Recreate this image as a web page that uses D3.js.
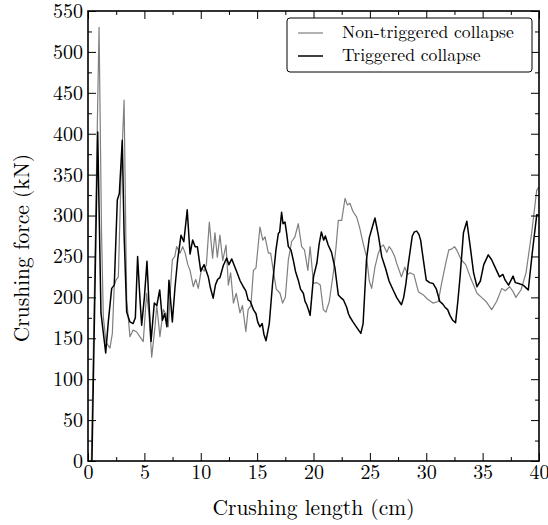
<!DOCTYPE html>
<html><head><meta charset="utf-8">
<script src="https://cdn.jsdelivr.net/npm/d3@7"></script>
<style>body{margin:0;background:#fff}svg{display:block}</style>
</head><body>
<script>
const seriesNames = ["Non-triggered collapse", "Triggered collapse"];
const xTicks = [0,5,10,15,20,25,30,35,40];
const yTicks = [0,50,100,150,200,250,300,350,400,450,500,550];

const nonTrigX = [0.3,0.98,1.2,1.36,1.6,1.95,2.16,2.33,2.48,2.69,2.93,3.2,3.43,3.72,4.0,4.3,4.6,4.9,5.2,5.4,5.65,5.94,6.1,6.38,6.68,6.9,7.12,7.36,7.48,7.7,7.86,8.16,8.4,8.6,8.85,9.05,9.34,9.55,9.78,10.08,10.3,10.5,10.76,11.05,11.26,11.47,11.7,11.95,12.24,12.45,12.65,12.9,13.15,13.48,13.7,14.0,14.2,14.45,14.67,14.9,15.25,15.5,15.7,16.0,16.2,16.43,16.7,17.03,17.26,17.5,17.77,18.06,18.35,18.65,18.95,19.2,19.5,19.7,20.0,20.3,20.6,20.87,21.1,21.4,21.76,22.0,22.2,22.5,22.8,23.0,23.23,23.5,23.83,24.1,24.4,24.7,24.95,25.16,25.45,25.75,26.0,26.2,26.5,26.7,26.93,27.2,27.37,27.8,28.1,28.35,28.56,28.9,29.3,29.74,30.1,30.6,31.07,31.36,31.75,32.0,32.26,32.5,32.7,33.1,33.5,33.9,34.2,34.5,34.9,35.3,35.8,36.24,36.7,37.0,37.4,37.7,37.95,38.4,38.85,39.35,39.8,40.0];
const nonTrigY = [0,530,279,176,145,138,156,215,221,225,347,441,197,152,160,158,152,146,205,180,127,164,190,152,185,180,164,221,246,250,262,254,262,255,240,233,213,222,211,236,232,240,292,248,279,249,276,245,264,215,230,193,205,181,190,158,185,190,233,236,286,270,274,254,254,233,210,205,193,200,246,268,274,290,262,258,233,262,217,218,215,185,182,195,230,262,294,294,321,313,315,305,298,285,266,250,220,211,237,254,262,264,255,262,258,250,242,225,237,228,230,228,207,203,198,193,195,217,243,258,259,262,258,246,240,225,215,205,200,195,185,195,211,208,213,207,200,209,230,279,331,335];

const trigX = [0.35,0.86,1.15,1.57,1.8,2.1,2.33,2.6,2.78,3.04,3.2,3.43,3.72,4.0,4.2,4.4,4.6,4.76,5.0,5.23,5.4,5.59,5.88,6.1,6.36,6.6,6.8,7.0,7.18,7.48,7.72,7.95,8.25,8.5,8.8,9.05,9.28,9.5,9.7,10.0,10.3,10.67,10.85,11.1,11.3,11.5,11.7,12.0,12.3,12.5,12.75,13.0,13.2,13.5,13.77,14.0,14.2,14.4,14.67,14.9,15.05,15.25,15.45,15.6,15.79,16.08,16.37,16.67,16.88,17.0,17.17,17.3,17.47,17.6,17.77,18.0,18.2,18.4,18.65,18.85,19.1,19.25,19.4,19.55,19.7,20.0,20.3,20.5,20.7,20.9,21.05,21.3,21.6,21.9,22.2,22.4,22.65,22.94,23.1,23.23,23.5,23.8,24.0,24.2,24.4,24.7,24.95,25.2,25.45,25.75,26.05,26.4,26.7,26.93,27.2,27.37,27.6,27.8,28.0,28.2,28.4,28.76,28.95,29.15,29.35,29.5,29.74,30.0,30.3,30.6,30.9,31.2,31.45,31.66,31.9,32.1,32.35,32.6,32.8,33.0,33.3,33.6,33.9,34.2,34.5,34.8,35.1,35.5,35.8,36.1,36.5,36.8,37.0,37.3,37.7,37.9,38.2,38.6,39.05,39.4,39.8,40.0];
const trigY = [0,402,181,132,170,211,215,319,327,392,278,182,170,168,175,250,200,166,200,244,195,146,193,190,209,172,180,164,221,170,213,246,276,268,307,253,270,262,262,232,240,225,212,199,215,222,224,239,248,240,247,238,231,220,213,208,197,195,185,180,170,164,168,155,147,168,217,258,278,280,304,290,292,280,262,258,246,232,221,210,205,195,191,185,178,225,242,265,280,270,275,264,255,236,203,200,197,188,180,176,170,164,160,156,168,246,273,285,297,276,250,235,220,213,205,200,195,191,200,217,240,275,280,281,277,270,246,221,218,217,210,195,192,188,185,178,172,169,195,225,279,293,262,230,213,220,240,252,246,237,225,228,221,215,226,218,217,215,209,254,301,300];

const FONT = '"Latin Modern Roman", "Liberation Serif", serif';
const W = 548, H = 525;
const m = {l: 88, t: 11, r: 9, b: 64};
const pw = W - m.l - m.r, ph = H - m.t - m.b;

const svg = d3.select("body").append("svg").attr("width", W).attr("height", H);
const x = d3.scaleLinear().domain([0, 40]).range([m.l, m.l + pw]);
const y = d3.scaleLinear().domain([0, 550]).range([m.t + ph, m.t]);

const xMinor = d3.range(2.5, 40, 5);
const yMinor = d3.range(25, 550, 50);

const g = svg.append("g");
const line = d3.line().x(d => x(d[0])).y(d => y(d[1]));
const nonTrig = nonTrigX.map((v, i) => [v, nonTrigY[i]]);
const trig = trigX.map((v, i) => [v, trigY[i]]);

svg.append("clipPath").attr("id", "clip").append("rect")
  .attr("x", m.l).attr("y", m.t).attr("width", pw).attr("height", ph);

g.append("path").datum(nonTrig).attr("d", line).attr("fill", "none")
  .attr("stroke", "#7f7f7f").attr("stroke-width", 1.2).attr("stroke-linejoin", "round").attr("clip-path", "url(#clip)");
g.append("path").datum(trig).attr("d", line).attr("fill", "none")
  .attr("stroke", "#000").attr("stroke-width", 1.5).attr("stroke-linejoin", "round").attr("clip-path", "url(#clip)");

const fs = 20, lfs = 21.5;
function addAxis(gen, tx, ty, vals, size, pad, labels) {
  const a = gen.tickValues(vals).tickSize(size).tickPadding(pad);
  if (labels) a.tickFormat(d3.format("d")); else a.tickFormat("");
  svg.append("g").attr("transform", `translate(${tx},${ty})`).call(a);
}
addAxis(d3.axisBottom(x), 0, m.t + ph, xTicks, -8, 4, true);
addAxis(d3.axisBottom(x), 0, m.t + ph, xMinor, -4, 3, false);
addAxis(d3.axisTop(x), 0, m.t, xTicks, -8, 3, false);
addAxis(d3.axisTop(x), 0, m.t, xMinor, -4, 3, false);
addAxis(d3.axisLeft(y), m.l, 0, yTicks, -8, 5, true);
addAxis(d3.axisLeft(y), m.l, 0, yMinor, -4, 3, false);
addAxis(d3.axisRight(y), m.l + pw, 0, yTicks, -8, 3, false);
addAxis(d3.axisRight(y), m.l + pw, 0, yMinor, -4, 3, false);

svg.selectAll("g").attr("font-family", FONT);
svg.selectAll(".domain").remove();
svg.selectAll(".tick line").attr("stroke", "#000").attr("stroke-width", 1);
svg.selectAll(".tick text").attr("font-family", FONT).attr("font-size", fs).attr("fill", "#000");

svg.append("rect").attr("x", m.l).attr("y", m.t).attr("width", pw).attr("height", ph)
  .attr("fill", "none").attr("stroke", "#000").attr("stroke-width", 1.6);

svg.append("text").attr("x", m.l + pw / 2).attr("y", 515).attr("text-anchor", "middle")
  .attr("font-family", FONT).attr("font-size", lfs).text("Crushing length (cm)");
svg.append("text").attr("transform", `translate(29,248) rotate(-90)`).attr("text-anchor", "middle")
  .attr("font-family", FONT).attr("font-size", lfs).text("Crushing force (kN)");

const lg = svg.append("g");
lg.append("rect").attr("x", 287).attr("y", 18).attr("width", 245).attr("height", 54).attr("rx", 3)
  .attr("fill", "#fff").attr("stroke", "#000").attr("stroke-width", 1);
const legendItems = [{name: seriesNames[0], color: "#7f7f7f", w: 1.2, yy: 33}, {name: seriesNames[1], color: "#000", w: 1.5, yy: 56}];
legendItems.forEach(it => {
  lg.append("line").attr("x1", 298).attr("x2", 323).attr("y1", it.yy).attr("y2", it.yy)
    .attr("stroke", it.color).attr("stroke-width", it.w);
  lg.append("text").attr("x", 342).attr("y", it.yy + 5).attr("font-family", FONT).attr("font-size", 17.6).text(it.name);
});
</script>
</body></html>
